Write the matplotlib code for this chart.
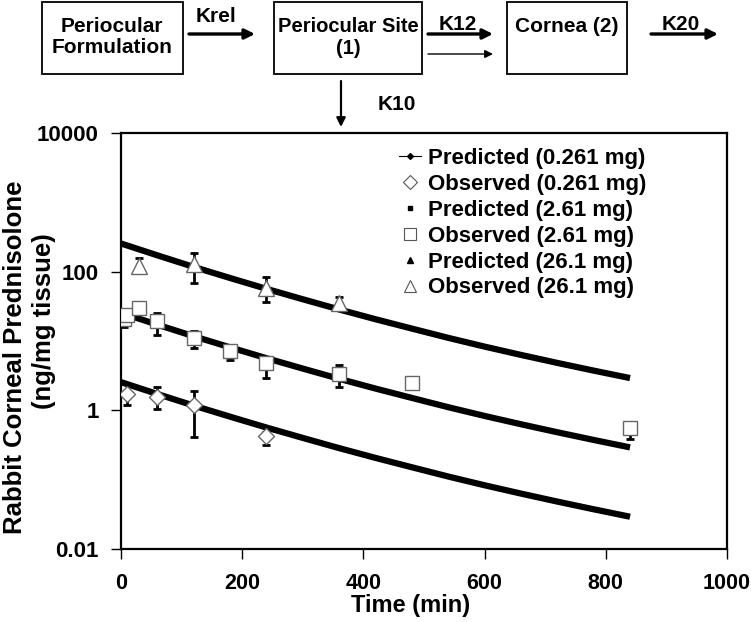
import numpy as np
import matplotlib
matplotlib.use('Agg')
import matplotlib.pyplot as plt
from matplotlib.lines import Line2D
from matplotlib.patches import Rectangle, FancyArrowPatch

plt.rcParams['font.family'] = ['Liberation Sans', 'DejaVu Sans']
plt.rcParams['font.weight'] = 'bold'

# Predicted concentration curves (ng/mg tissue)
t_pred = [0, 60, 120, 180, 240, 300, 360, 420, 480, 540, 600, 660, 720, 780, 840]
pred_low = [2.55, 1.72, 1.17, 0.81, 0.565, 0.40, 0.285, 0.206, 0.151, 0.111, 0.083, 0.063, 0.0483, 0.0374, 0.0292]
pred_mid = [25.5, 17.2, 11.7, 8.1, 5.65, 4.0, 2.85, 2.06, 1.51, 1.11, 0.83, 0.63, 0.483, 0.374, 0.292]
pred_high = [255, 172, 117, 81, 56.5, 40, 28.5, 20.6, 15.1, 11.1, 8.3, 6.3, 4.83, 3.74, 2.92]

# Observed data with error bar ends
t_obs_low = [10, 60, 120, 240]
obs_low = [1.7, 1.55, 1.18, 0.42]
obs_low_min = [1.18, 1.03, 0.41, 0.32]
obs_low_max = [1.9, 2.15, 1.88, 0.48]

t_obs_mid = [5, 10, 30, 60, 120, 180, 240, 360, 480, 840]
obs_mid = [21, 24, 30, 19.5, 11.0, 7.2, 4.8, 3.3, 2.46, 0.55]
obs_mid_min = [16, 20, 27, 12.2, 7.9, 5.3, 2.9, 2.2, 2.46, 0.39]
obs_mid_max = [25, 27, 35.6, 25.5, 14, 8.5, 5.8, 4.5, 2.46, 0.69]

t_obs_high = [30, 120, 240, 360]
obs_high = [122, 131, 58.7, 35.5]
obs_high_min = [97.5, 69, 36.7, 30]
obs_high_max = [155, 188, 85, 43.5]

W, H = 751, 622


def px(x, y):
    # pixel position (from top-left) to figure fraction
    return x / W, 1 - y / H


fig = plt.figure(figsize=(7.51, 6.22), dpi=100)
ax = fig.add_axes([121 / W, 1 - 549 / H, (727 - 121) / W, (549 - 133) / H])

# predicted curves: thick black lines
for vals in [pred_low, pred_mid, pred_high]:
    ax.plot(t_pred, vals, color='black', lw=4.5, solid_capstyle='butt', zorder=2)

# observed points with error bars
obs_sets = [
    (t_obs_low, obs_low, obs_low_min, obs_low_max, 'D', 8),
    (t_obs_mid, obs_mid, obs_mid_min, obs_mid_max, 's', 10),
    (t_obs_high, obs_high, obs_high_min, obs_high_max, '^', 11),
]
for t, v, lo, hi, mk, ms in obs_sets:
    v = np.array(v)
    yerr = [v - np.array(lo), np.array(hi) - v]
    ax.errorbar(t, v, yerr=yerr, fmt='none', ecolor='black', elinewidth=2,
                capsize=3, capthick=2, zorder=3)
    ax.plot(t, v, linestyle='none', marker=mk, markersize=ms, markerfacecolor='white',
            markeredgecolor='#666666', markeredgewidth=1, zorder=4)

ax.set_yscale('log')
ax.set_ylim(0.01, 10000)
ax.set_xlim(0, 1000)
ax.set_xticks([0, 200, 400, 600, 800, 1000])
ax.set_yticks([0.01, 1, 100, 10000])
ax.set_yticklabels(['0.01', '1', '100', '10000'])
ax.yaxis.set_minor_locator(matplotlib.ticker.NullLocator())
ax.tick_params(axis='both', direction='out', length=7, width=1, labelsize=16)
ax.tick_params(axis='x', pad=10, labelsize=15.5)
ax.tick_params(axis='y', pad=9)
for s in ax.spines.values():
    s.set_linewidth(1.6)

ax.set_xlabel('Time (min)', fontsize=17, fontweight='bold')
ax.xaxis.set_label_coords((411 - 121) / 606, -(594 - 549) / 416)

fig.text(15 / W, 1 - 357 / H, 'Rabbit Corneal Prednisolone', rotation=90,
         ha='center', va='center', fontsize=18.5, fontweight='bold')
fig.text(44 / W, 1 - 321 / H, '(ng/mg tissue)', rotation=90,
         ha='center', va='center', fontsize=18.5, fontweight='bold')

# legend with proxy handles
handles = [
    Line2D([], [], color='black', lw=0.8, marker='D', markersize=3, markerfacecolor='black'),
    Line2D([], [], linestyle='none', marker='D', markersize=7, markerfacecolor='white',
           markeredgecolor='#555555', markeredgewidth=0.8),
    Line2D([], [], linestyle='none', marker='s', markersize=3.5, color='black'),
    Line2D([], [], linestyle='none', marker='s', markersize=8, markerfacecolor='white',
           markeredgecolor='#555555', markeredgewidth=0.8),
    Line2D([], [], linestyle='none', marker='^', markersize=4, color='black'),
    Line2D([], [], linestyle='none', marker='^', markersize=8, markerfacecolor='white',
           markeredgecolor='#555555', markeredgewidth=0.8),
]
labels = ['Predicted (0.261 mg)', 'Observed (0.261 mg)', 'Predicted (2.61 mg)',
          'Observed (2.61 mg)', 'Predicted (26.1 mg)', 'Observed (26.1 mg)']
fig.legend(handles, labels, loc='upper left', bbox_to_anchor=px(399, 148),
           frameon=False, handlelength=1.0, handletextpad=0.3,
           labelspacing=0.22, borderpad=0, borderaxespad=0,
           prop={'weight': 'bold', 'size': 16})

# compartment diagram on top
boxes = [(42, 2, 183, 74), (274, 2, 422, 74), (507, 2, 627, 74)]
for x0, y0, x1, y1 in boxes:
    fig.patches.append(Rectangle(px(x0, y1), (x1 - x0) / W, (y1 - y0) / H,
                                 transform=fig.transFigure, fill=False,
                                 edgecolor='black', lw=1.3))

fig.text(*px(112, 37), 'Periocular\nFormulation', ha='center', va='center',
         fontsize=15, fontweight='bold', linespacing=1.15)
fig.text(*px(348, 37), 'Periocular Site\n(1)', ha='center', va='center',
         fontsize=14.5, fontweight='bold', linespacing=1.2)
fig.text(*px(567, 26), 'Cornea (2)', ha='center', va='center',
         fontsize=15, fontweight='bold')

arrows = [((189, 34), (255, 34), 2.4), ((428, 34), (493, 34), 2.4),
          ((428, 54), (493, 54), 1.0), ((651, 34), (718, 34), 2.4),
          ((341, 81), (341, 127), 1.6)]
for a, b, lw in arrows:
    fig.patches.append(FancyArrowPatch(px(*a), px(*b), transform=fig.transFigure,
                                       arrowstyle='-|>', mutation_scale=10 + 2 * lw,
                                       color='black', lw=lw, shrinkA=0, shrinkB=0))

fig.text(*px(216, 17), 'Krel', ha='center', va='center', fontsize=15, fontweight='bold')
fig.text(*px(458, 24), 'K12', ha='center', va='center', fontsize=15, fontweight='bold')
fig.text(*px(681, 24), 'K20', ha='center', va='center', fontsize=15, fontweight='bold')
fig.text(*px(397, 104), 'K10', ha='center', va='center', fontsize=15, fontweight='bold')

fig.savefig('out.png', dpi=100)
